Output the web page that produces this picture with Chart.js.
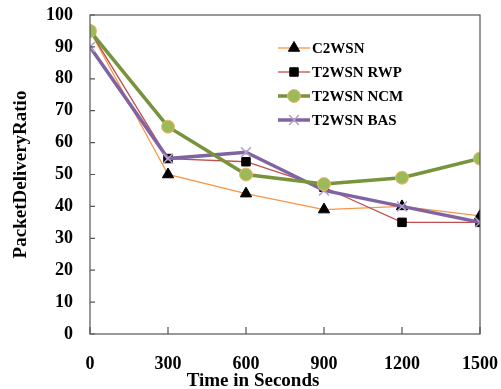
<!DOCTYPE html>
<html>
<head>
<meta charset="utf-8">
<script src="https://cdn.jsdelivr.net/npm/chart.js@4.4.0/dist/chart.umd.min.js"></script>
<style>
  html, body { margin: 0; padding: 0; background: #fff; }
  #wrap { width: 501px; height: 389px; }
</style>
</head>
<body>
<div id="wrap"><canvas id="pdr"></canvas></div>
<script>
const times = [0, 300, 600, 900, 1200, 1500];
const yTicks = [0, 10, 20, 30, 40, 50, 60, 70, 80, 90, 100];
const c2wsn = [95, 50, 44, 39, 40, 37];
const t2wsnRwp = [95, 55, 54, 46, 35, 35];
const t2wsnNcm = [95, 65, 50, 47, 49, 55];
const t2wsnBas = [90, 55, 57, 45, 40, 35];

const FONT = "'Liberation Serif', 'Times New Roman', serif";

const toXY = arr => arr.map((v, i) => ({ x: times[i], y: v }));

const datasets = [
  {
    label: "C2WSN", data: toXY(c2wsn), order: 3,
    borderColor: "#F79646", borderWidth: 1.3,
    pointStyle: "triangle", pointRadius: 6.5, pointBackgroundColor: "#000", pointBorderColor: "#000", pointBorderWidth: 1
  },
  {
    label: "T2WSN RWP", data: toXY(t2wsnRwp), order: 2,
    borderColor: "#C0504D", borderWidth: 1.3,
    pointStyle: "rect", pointRadius: 6, pointBackgroundColor: "#000", pointBorderColor: "#000", pointBorderWidth: 1
  },
  {
    label: "T2WSN NCM", data: toXY(t2wsnNcm), order: 0,
    borderColor: "#77933C", borderWidth: 3.5,
    pointStyle: "circle", pointRadius: 6.5, pointBackgroundColor: "#9BBB59", pointBorderColor: "#F2B56B", pointBorderWidth: 1
  },
  {
    label: "T2WSN BAS", data: toXY(t2wsnBas), order: 1,
    borderColor: "#8064A2", borderWidth: 3.5,
    pointStyle: "crossRot", pointRadius: 7, pointBackgroundColor: "#B3A2C7", pointBorderColor: "#B3A2C7", pointBorderWidth: 1.5
  }
];

// ===== frame, inside ticks, legend, x title =====
const decorPlugin = {
  id: "decor",
  afterDraw(chart) {
    const ctx = chart.ctx;
    const a = chart.chartArea;
    const xs = chart.scales.x, ys = chart.scales.y;
    ctx.save();
    ctx.strokeStyle = "#555";
    ctx.lineWidth = 1.2;
    ctx.strokeRect(a.left, a.top, a.right - a.left, a.bottom - a.top);
    ctx.beginPath();
    yTicks.forEach(v => {
      const y = ys.getPixelForValue(v);
      ctx.moveTo(a.left, y); ctx.lineTo(a.left + 5, y);
    });
    times.forEach(t => {
      const x = xs.getPixelForValue(t);
      ctx.moveTo(x, a.bottom); ctx.lineTo(x, a.bottom - 7);
    });
    ctx.stroke();

    // legend
    const lx = 278, ly = 48, step = 24;
    datasets.forEach((ds, i) => {
      const y = ly + i * step;
      ctx.strokeStyle = ds.borderColor;
      ctx.lineWidth = ds.borderWidth;
      ctx.beginPath(); ctx.moveTo(lx, y); ctx.lineTo(lx + 32, y); ctx.stroke();
      ctx.fillStyle = ds.pointBackgroundColor;
      ctx.strokeStyle = ds.pointBorderColor;
      ctx.lineWidth = ds.pointBorderWidth;
      Chart.helpers.drawPoint(ctx, { pointStyle: ds.pointStyle, radius: ds.pointRadius, borderWidth: ds.pointBorderWidth, rotation: 0 }, lx + 16, y);
      ctx.fillStyle = "#000";
      ctx.font = "bold 15px " + FONT;
      ctx.textBaseline = "middle";
      ctx.textAlign = "left";
      ctx.fillText(ds.label, lx + 34, y + 1);
    });

    ctx.fillStyle = "#000";
    ctx.font = "bold 19px " + FONT;
    ctx.textAlign = "center";
    ctx.textBaseline = "middle";
    ctx.fillText("Time in Seconds", 253, 381);
    ctx.restore();
  }
};

new Chart(document.getElementById("pdr"), {
  type: "line",
  data: { datasets },
  options: {
    responsive: true,
    maintainAspectRatio: false,
    animation: false,
    layout: { padding: { top: 15, right: 21, left: 0, bottom: 0 } },
    plugins: { legend: { display: false }, tooltip: { enabled: false } },
    elements: { line: { tension: 0 } },
    scales: {
      x: {
        type: "linear", min: 0, max: 1500,
        afterBuildTicks: s => { s.ticks = times.map(v => ({ value: v })); },
        afterFit: s => { s.height = 55; s.paddingLeft = 0; s.paddingRight = 0; },
        grid: { display: false, drawTicks: false },
        border: { display: false },
        ticks: { color: "#000", padding: 20, maxRotation: 0, callback: v => String(v), font: { family: FONT, size: 18, weight: "bold" } }
      },
      y: {
        min: 0, max: 100,
        afterBuildTicks: s => { s.ticks = yTicks.map(v => ({ value: v })); },
        afterFit: s => { s.width = 90; s.paddingTop = 0; s.paddingBottom = 0; },
        grid: { display: false, drawTicks: false },
        border: { display: false },
        title: { display: true, text: "PacketDeliveryRatio", color: "#000", padding: { top: 10, bottom: 0 }, font: { family: FONT, size: 19, weight: "bold" } },
        ticks: { color: "#000", padding: 17, font: { family: FONT, size: 18, weight: "bold" } }
      }
    }
  },
  plugins: [decorPlugin]
});
</script>
</body>
</html>
